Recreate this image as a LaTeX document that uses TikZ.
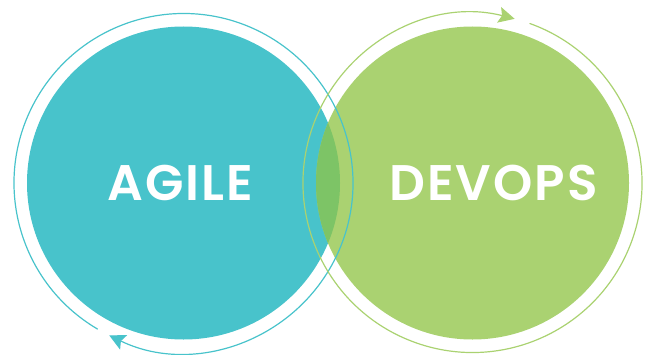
\documentclass[tikz,border=0pt]{standalone}
\usepackage{fontspec}
\setmainfont{Poppins}[BoldFont={Poppins SemiBold}, LetterSpace=4]
\usetikzlibrary{arrows.meta}
\definecolor{agileblue}{HTML}{48C3CB}
\definecolor{devopsgreen}{HTML}{AAD271}
\definecolor{lensgreen}{HTML}{7DC466}
\begin{document}
\begin{tikzpicture}[x=1pt, y=1pt, line cap=round, >={Stealth[length=16pt,width=16pt,inset=3pt]}, font=\fontsize{50}{50}\selectfont\bfseries]
\useasboundingbox (0,0) rectangle (647,354);
\coordinate (A) at (183.5,171);
\coordinate (D) at (472.5,171);
\fill[agileblue] (A) circle (156.5);
\fill[devopsgreen] (D) circle (156.5);
\begin{scope}
\clip (A) circle (156.5);
\fill[lensgreen] (D) circle (156.5);
\end{scope}
% loops round the two circles
\draw[agileblue, line width=1.2pt, ->] (A) ++(599.5:169.5) arc[start angle=599.5, end angle=244, radius=169.5];
\draw[devopsgreen, line width=1.2pt, ->] (D) ++(70.2:169.5) arc[start angle=70.2, end angle=-284.4, radius=169.5];
\node[white] (agile) at (180.5,171.5) {AGILE};
\node[white] (devops) at (493.5,171.5) {DEVOPS};
\end{tikzpicture}
\end{document}
